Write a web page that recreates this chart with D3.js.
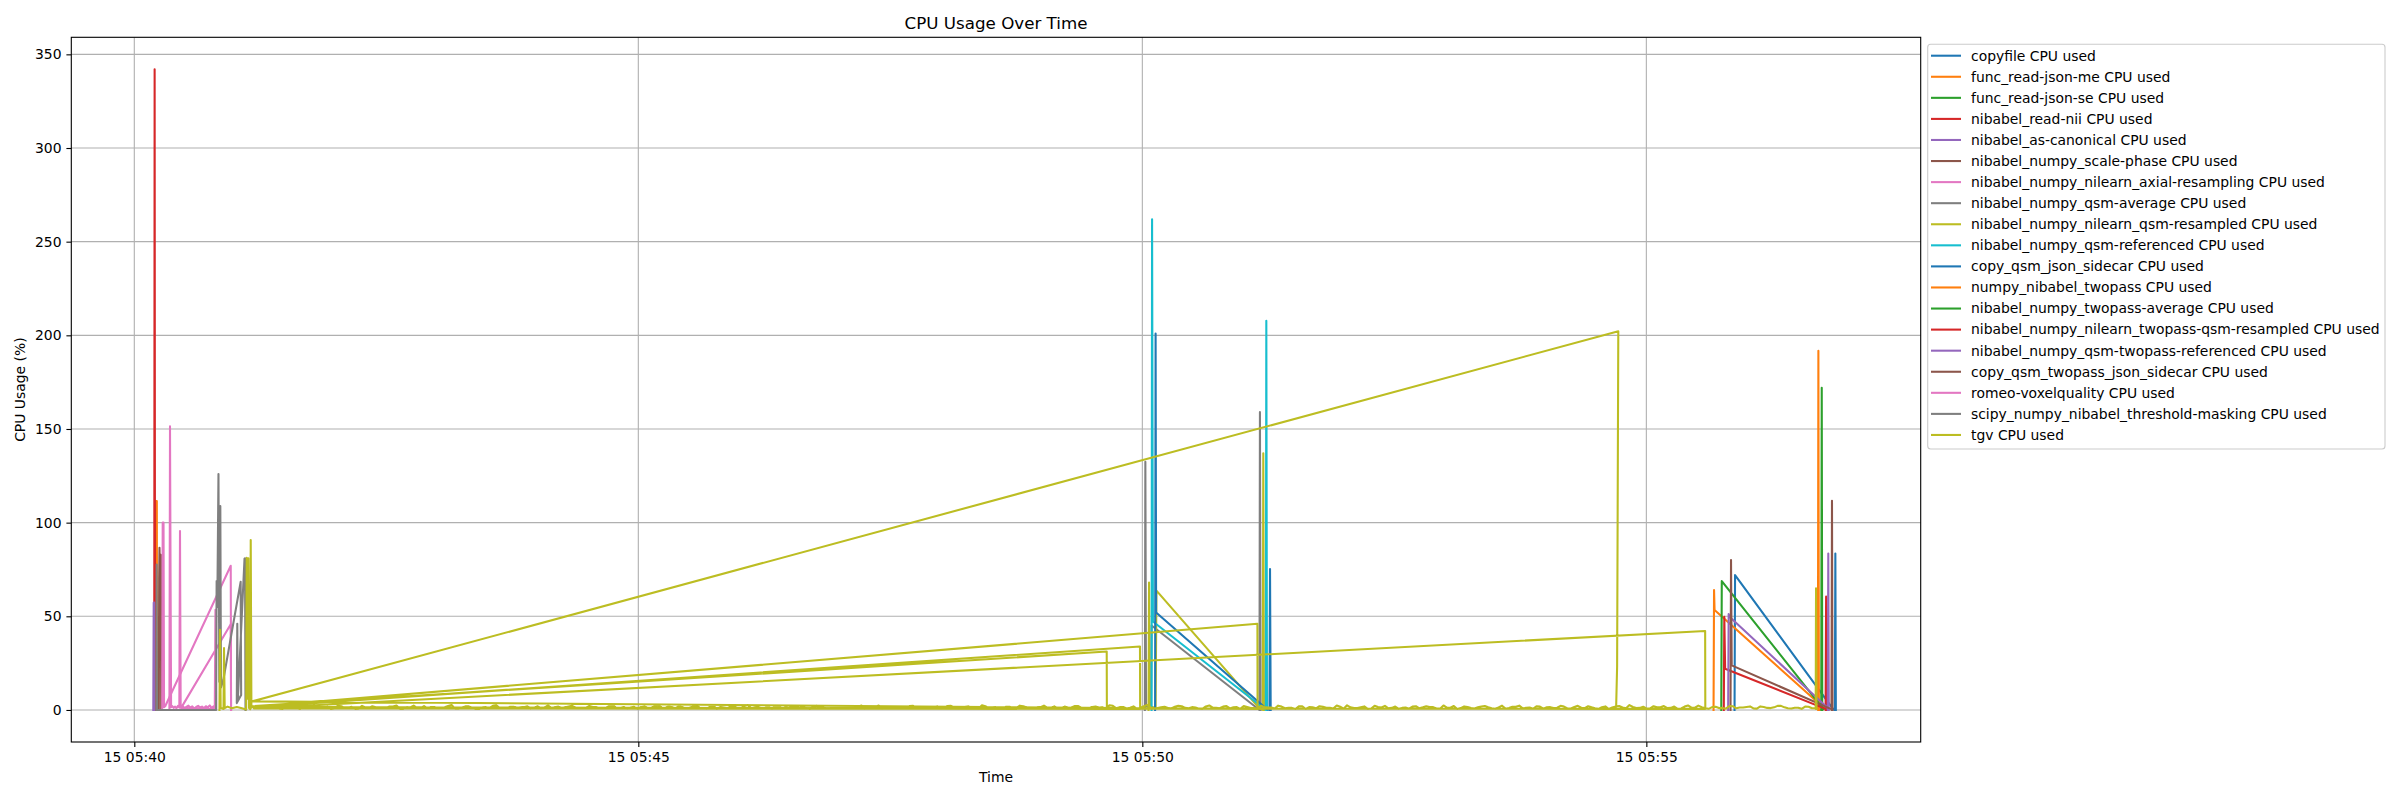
<!DOCTYPE html>
<html><head><meta charset="utf-8">
<script src="https://cdn.jsdelivr.net/npm/d3@7"></script>
<style>
body{margin:0;background:#fff}
text{font-family:"DejaVu Sans",sans-serif;fill:#000}
</style>
</head><body>
<svg id="chart" width="2400" height="800"></svg>
<script>
// ---------------- data ----------------
const startTime = "2024-05-15T05:40:00Z";   // time origin, points below are seconds after it
const xRangeSeconds = [-37.5, 1063.3];      // visible time window (seconds after startTime)
const chartTitle = "CPU Usage Over Time";
const xLabel = "Time";
const yLabel = "CPU Usage (%)";
const yTicks = [0, 50, 100, 150, 200, 250, 300, 350];
const xTickMinutes = 5;

const seriesNames = [
  "copyfile CPU used",
  "func_read-json-me CPU used",
  "func_read-json-se CPU used",
  "nibabel_read-nii CPU used",
  "nibabel_as-canonical CPU used",
  "nibabel_numpy_scale-phase CPU used",
  "nibabel_numpy_nilearn_axial-resampling CPU used",
  "nibabel_numpy_qsm-average CPU used",
  "nibabel_numpy_nilearn_qsm-resampled CPU used",
  "nibabel_numpy_qsm-referenced CPU used",
  "copy_qsm_json_sidecar CPU used",
  "numpy_nibabel_twopass CPU used",
  "nibabel_numpy_twopass-average CPU used",
  "nibabel_numpy_nilearn_twopass-qsm-resampled CPU used",
  "nibabel_numpy_qsm-twopass-referenced CPU used",
  "copy_qsm_twopass_json_sidecar CPU used",
  "romeo-voxelquality CPU used",
  "scipy_numpy_nibabel_threshold-masking CPU used",
  "tgv CPU used"
];
const palette = ["#1f77b4","#ff7f0e","#2ca02c","#d62728","#9467bd","#8c564b","#e377c2","#7f7f7f","#bcbd22","#17becf"];

// [seconds after startTime, CPU %]
const copyfile = [[952.5,0],[952.8,72],[1011.3,0.3],[1012.2,0],[1012.5,83.5],[1012.8,0]];
const funcReadJsonMe = [[12.7,0],[12.9,111.6],[13.4,111.6],[13.6,0]];
const funcReadJsonSe = [[12.0,0],[12.1,20],[12.2,0]];
const nibabelReadNii = [[11.85,0],[12.1,342],[12.35,0]];
const nibabelAsCanonical = [[11.3,0],[11.55,57.3],[11.85,57.3],[11.95,0]];
const nibabelScalePhase = [[14.6,0],[14.8,70],[15.0,86.6],[15.4,60],[15.8,82.8],[16.0,0]];
const axialResampling = [[16.6,0],[16.9,100],[17.2,2],[17.4,100],[17.7,1.5],[18.4,2],[57.4,77],[57.6,0]];
const qsmAverage = [[601.5,0],[601.8,132.5],[602.2,2],[605.2,1],[605.5,45.1],[669.0,0.5],[669.7,0],[670.0,159],[670.4,0]];
const qsmResampled = [[603.7,0],[604.0,68],[604.4,2],[607.9,1],[608.4,63.7],[669.0,1.5],[671.7,0],[672.0,137],[672.4,0]];
const qsmReferenced = [[605.5,0],[605.8,262],[606.3,47.2],[672.8,0.5],[673.5,0],[673.8,207.8],[674.2,0]];
const copyQsmJsonSidecar = [[607.6,0],[607.9,201],[608.2,52],[674.0,0.5],[675.7,0],[676.0,75.3],[676.4,0]];
const numpyNibabelTwopass = [[940.0,0],[940.3,64],[940.6,53.4],[1006.4,0.5],[1002.1,0],[1002.4,191.7],[1002.7,0]];
const twopassAverage = [[944.6,0],[944.9,68.8],[1005.4,0.5],[1004.1,0],[1004.4,172],[1004.7,0]];
const twopassQsmResampled = [[946.1,0],[946.4,49.8],[946.9,22],[1007.4,0.3],[1006.7,0],[1007.0,60.5],[1007.3,0]];
const qsmTwopassReferenced = [[948.7,0],[949.0,51.2],[949.5,49.8],[1008.6,0.5],[1008.0,0],[1008.3,83.5],[1008.6,0]];
const copyQsmTwopassJsonSidecar = [[950.1,0],[950.4,80],[950.8,23.8],[1010.4,0.3],[1010.2,0],[1010.5,111.7],[1010.8,0]];
const romeoVoxelquality = [[20.9,0],[21.25,151.5],[21.6,68.8],[21.9,1.5],[22.6,2.0],[23.4,1.1],[24.3,1.8],[25.1,0.9],[26.0,2.2],[26.8,1.2],[27.2,95.5],[27.6,1.4],[28.7,2.1],[29.9,1.0],[31.0,1.7],[32.2,2.3],[33.4,1.2],[34.5,1.9],[35.7,0.8],[36.8,1.6],[38.0,2.2],[39.1,1.3],[40.3,1.8],[41.4,0.9],[42.6,2.0],[43.7,1.4],[44.9,2.4],[46.0,1.1],[47.2,1.9],[47.9,1.2],[48.3,53.5],[48.7,0.6],[27.8,1.0],[57.4,45.8],[57.6,0]];
const thresholdMasking = [[13.1,0],[13.3,77.7],[13.5,0],[48.7,0],[49.0,68.8],[49.4,55],[50.1,126],[50.6,15],[51.2,108.8],[51.6,12],[53.0,16.1],[63.3,68.4],[63.6,8],[61.0,3.7],[61.3,46],[61.6,5],[65.6,80.7],[65.9,81],[66.2,0]];
const tgvEarly = [[50.7,0],[51.0,42.8],[51.4,1.2],[53.1,0.5],[53.4,33],[53.8,1.0],[55.5,1.8],[58.0,0.9],[61.0,1.6],[63.5,1.1],[66.6,0.3],[66.9,81.3],[67.4,6],[67.9,81],[68.3,1.0],[69.0,0.4],[69.3,90.7],[69.7,1.2]];
const tgvLong = [[70.5,2.0],[578.8,31.2],[578.9,0.5],[70.8,1.5],[598.6,33.9],[598.7,0.5],[71.0,1.7],[668.5,46.0],[668.6,0.5],[70.2,4.6],[883.3,202.2],[882.6,23.2],[882.0,0.6],[71.2,0.8],[935.0,42.2],[935.1,0.6]];
// tgv background samples: two interleaved streams, each one sample every 4.1 s
const tgvNoiseStep = 4.1;
const tgvNoiseStartA = 72, tgvNoiseStartB = 74.05;
const tgvNoiseA = [
1.2,0.8,2.1,1.5,0.6,1.9,1.1,2.4,0.9,1.6,1.3,0.5,2.2,1.0,1.7,0.7,1.4,2.0,0.9,1.2,
1.8,0.6,1.5,2.3,1.0,0.8,1.6,1.2,2.1,0.7,1.3,1.9,0.5,1.4,1.1,2.5,0.9,1.7,1.0,1.5,
0.6,2.0,1.2,0.8,1.8,1.4,2.2,0.7,1.1,1.6,0.9,1.3,2.4,1.0,0.6,1.7,1.5,0.8,2.0,1.2,
1.9,0.7,1.4,1.1,2.3,0.9,1.6,0.5,1.3,1.8,1.0,2.1,0.8,1.5,1.2,0.6,1.9,1.4,2.2,1.0,
0.9,1.7,1.3,0.7,2.0,1.1,1.6,0.8,2.4,1.2,1.5,0.6,1.8,1.0,1.4,2.1,0.9,1.3,0.7,1.9,
1.1,2.2,0.8,1.6,1.2,0.5,2.0,1.4,1.0,1.7,0.9,2.3,1.3,0.6,1.5,1.1,1.9,0.8,1.2,2.1,
1.0,0.7,1.8,1.4,2.5,0.9,1.6,1.2,0.6,2.0,1.3,1.0,1.7,0.8,2.2,1.1,1.5,0.7,1.9,1.2,
0.9,2.1,1.4,0.6,1.6,1.0,2.3,1.3,0.8,1.8,1.1,0.5,2.0,1.5,0.9,1.7,1.2,2.4,0.7,1.4,
1.0,1.9,0.8,1.6,2.2,1.1,0.6,1.3,1.8,0.9,2.0,1.5,0.7,1.2,2.1,1.0,1.6,0.8,1.9,1.4,
0.6,2.3,1.1,1.7,0.9,1.3,2.0,0.7,1.5,1.2,1.8,0.8,2.2,1.0,1.4,0.6,1.9,1.3,2.1,0.9,
1.6,1.1,0.7,2.0,1.4,1.0,1.8,0.8,2.4,1.2,1.5,0.6,1.7,1.1,2.1,0.9,1.3,1.9,0.7,1.6,
1.0,2.2,1.4,0.8,1.2,1.8,0.9
];
const tgvNoiseB = [
0.9,1.6,2.3,0.7,1.2,1.9,0.5,1.4,2.6,1.0,1.7,0.8,2.0,1.3,0.6,2.2,1.1,1.5,0.9,1.8,
2.4,0.6,1.3,1.0,2.1,1.6,0.8,1.4,2.7,0.7,1.9,1.2,0.5,1.5,2.2,1.0,0.8,1.7,1.3,2.0,
1.1,0.6,2.5,1.4,0.9,1.8,1.2,0.7,2.1,1.5,1.0,2.3,0.8,1.6,1.3,0.5,1.9,1.1,2.4,0.9,
1.4,2.0,0.7,1.7,1.2,0.6,2.2,1.5,1.0,1.8,0.8,2.6,1.3,0.9,1.6,2.1,0.7,1.1,1.9,1.4,
0.5,2.3,1.2,0.8,1.7,1.0,2.0,1.5,0.6,1.3,2.4,0.9,1.8,1.1,0.7,2.2,1.4,1.0,1.6,0.8,
2.1,1.3,0.5,1.9,1.2,2.5,0.9,1.5,0.7,1.7,1.1,2.0,0.8,1.4,2.3,1.0,0.6,1.8,1.3,2.1,
0.9,1.6,1.2,0.5,2.2,1.5,0.8,1.9,1.1,2.6,0.7,1.4,1.0,1.7,2.0,0.9,1.3,0.6,2.4,1.2,
1.8,0.8,1.5,2.1,1.0,0.7,1.6,1.3,2.3,0.9,1.1,1.9,0.5,1.4,2.0,1.2,0.8,1.7,2.5,1.0,
1.5,0.6,2.2,1.3,0.9,1.8,1.1,0.7,2.0,1.4,1.6,0.8,2.4,1.2,0.5,1.9,1.0,1.5,2.1,0.9,
1.3,0.7,1.7,2.3,1.1,0.6,1.8,1.4,1.0,2.2,0.8,1.6,1.2,2.0,0.9,1.5,0.5,1.9,1.3,2.6,
1.0,1.7,0.8,1.4,2.1,1.1,0.6,1.8,1.2,2.3,0.9,1.5,1.0,0.7,2.0,1.3,1.6,0.8,1.9,1.1,
1.4,2.2,0.9,1.2,0.6,1.7,1.0
];
const tgvEnd = [[1000.8,0.5],[1001.0,65],[1001.3,0.5]];

// ---------------- build ----------------
const tgvNoise = tgvNoiseA.map((v,i)=>[tgvNoiseStartA + i*tgvNoiseStep, v])
  .concat(tgvNoiseB.map((v,i)=>[tgvNoiseStartB + i*tgvNoiseStep, v]))
  .sort((a,b)=>d3.ascending(a[0], b[0]));
const tgv = tgvEarly.concat(tgvLong, tgvNoise, tgvEnd);
const seriesData = [copyfile, funcReadJsonMe, funcReadJsonSe, nibabelReadNii, nibabelAsCanonical,
  nibabelScalePhase, axialResampling, qsmAverage, qsmResampled, qsmReferenced, copyQsmJsonSidecar,
  numpyNibabelTwopass, twopassAverage, twopassQsmResampled, qsmTwopassReferenced,
  copyQsmTwopassJsonSidecar, romeoVoxelquality, thresholdMasking, tgv];

const t0 = Date.parse(startTime);
const toDate = s => new Date(t0 + s*1000);
const series = seriesNames.map((name,i)=>({
  name, color: palette[i % palette.length],
  points: seriesData[i].map(([s,v]) => ({date: toDate(s), value: v}))
}));

const plot = {left: 71.3, right: 1920.7, top: 37.3, bottom: 742};
const svg = d3.select("#chart");

const allPts = series.flatMap(s=>s.points);
const x = d3.scaleUtc().domain(xRangeSeconds.map(toDate)).range([plot.left, plot.right]);
const [vMin, vMax] = d3.extent(allPts, p=>p.value);
const vPad = (vMax - vMin)*0.05;
const y = d3.scaleLinear().domain([vMin - vPad, vMax + vPad]).range([plot.bottom, plot.top]);

const xTicks = x.ticks(d3.utcMinute.every(xTickMinutes));
const fmt = d3.utcFormat("%d %H:%M");

// grid
const grid = svg.append("g");
grid.selectAll("line.gx").data(xTicks).join("line")
  .attr("x1", d=>x(d)).attr("x2", d=>x(d)).attr("y1", plot.top).attr("y2", plot.bottom)
  .attr("stroke", "#b0b0b0").attr("stroke-width", 1.1);
grid.selectAll("line.gy").data(yTicks).join("line")
  .attr("x1", plot.left).attr("x2", plot.right).attr("y1", d=>y(d)).attr("y2", d=>y(d))
  .attr("stroke", "#b0b0b0").attr("stroke-width", 1.1);

// lines
svg.append("clipPath").attr("id","clip").append("rect")
  .attr("x", plot.left).attr("y", plot.top).attr("width", plot.right-plot.left).attr("height", plot.bottom-plot.top);
const line = d3.line().x(p=>x(p.date)).y(p=>y(p.value));
svg.append("g").attr("clip-path","url(#clip)").selectAll("path").data(series).join("path")
  .attr("d", s=>line(s.points)).attr("fill","none").attr("stroke", s=>s.color)
  .attr("stroke-width", 2.08).attr("stroke-linejoin","round").attr("stroke-linecap","square");

// axes
const xAxis = svg.append("g").attr("transform", `translate(0,${plot.bottom})`)
  .call(d3.axisBottom(x).tickValues(xTicks).tickFormat(fmt).tickSizeOuter(0).tickSize(4.9).tickPadding(4.9));
const yAxis = svg.append("g").attr("transform", `translate(${plot.left},0)`)
  .call(d3.axisLeft(y).tickValues(yTicks).tickSizeOuter(0).tickSize(4.9).tickPadding(4.9));
[xAxis, yAxis].forEach(a=>{
  a.select(".domain").remove();
  a.selectAll(".tick line").attr("stroke","#000").attr("stroke-width",1.1);
  a.selectAll(".tick text").attr("font-size", 13.9).attr("font-family", '"DejaVu Sans",sans-serif').attr("fill","#000");
});
svg.append("rect").attr("x", plot.left).attr("y", plot.top)
  .attr("width", plot.right-plot.left).attr("height", plot.bottom-plot.top)
  .attr("fill","none").attr("stroke","#000").attr("stroke-width",1.1);

// labels
svg.append("text").attr("x", (plot.left+plot.right)/2).attr("y", 29).attr("text-anchor","middle")
  .attr("font-size", 16.7).text(chartTitle);
svg.append("text").attr("x", (plot.left+plot.right)/2).attr("y", 782).attr("text-anchor","middle")
  .attr("font-size", 13.9).text(xLabel);
svg.append("text").attr("transform", `translate(25,${(plot.top+plot.bottom)/2}) rotate(-90)`)
  .attr("text-anchor","middle").attr("font-size", 13.9).text(yLabel);

// legend
const lg = svg.append("g");
lg.append("rect").attr("x", 1927.7).attr("y", 44.3).attr("width", 457.3).attr("height", 404.7)
  .attr("rx", 3).attr("fill","#fff").attr("fill-opacity",0.8).attr("stroke","#cccccc").attr("stroke-width",1.1);
const items = lg.selectAll("g.item").data(series).join("g")
  .attr("transform", (d,i)=>`translate(0,${55.7 + i*21.07})`);
items.append("line").attr("x1", 1931).attr("x2", 1961).attr("stroke", d=>d.color).attr("stroke-width", 2.08);
items.append("text").attr("x", 1971).attr("dy","0.35em").attr("font-size", 13.9).text(d=>d.name);
</script>
</body></html>
